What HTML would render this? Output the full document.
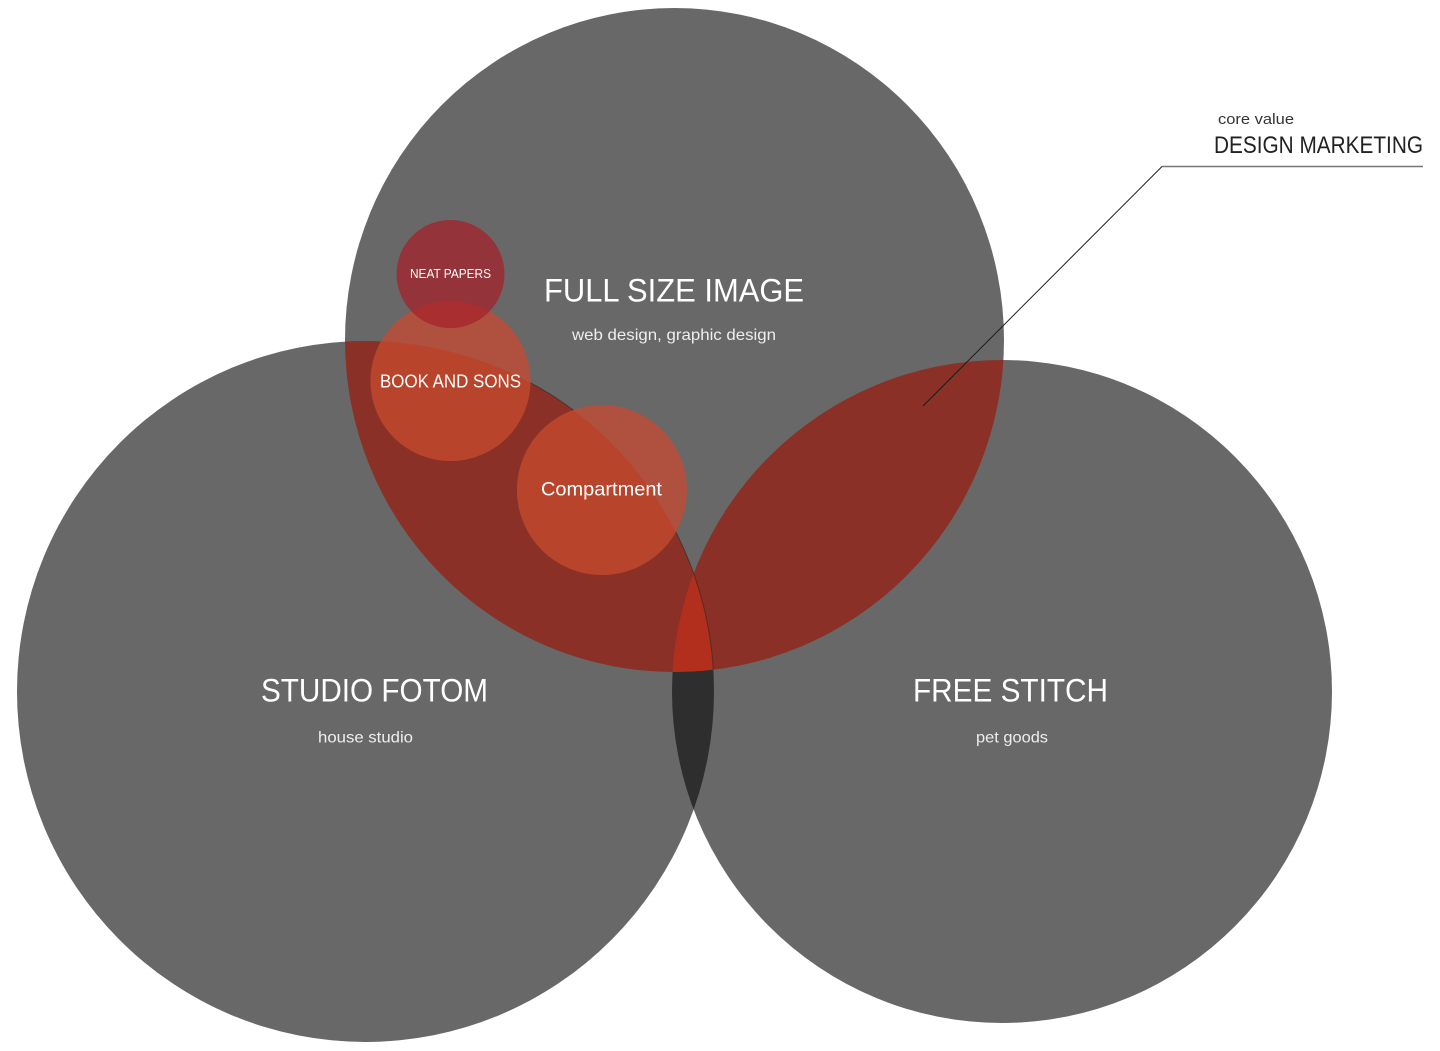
<!DOCTYPE html>
<html>
<head>
<meta charset="utf-8">
<style>
html,body{margin:0;padding:0;background:#fff;width:1440px;height:1051px;overflow:hidden}
svg{display:block}
text{font-family:"Liberation Sans",sans-serif}
</style>
</head>
<body>
<svg width="1440" height="1051" viewBox="0 0 1440 1051" xmlns="http://www.w3.org/2000/svg">
<defs>
<clipPath id="cT"><ellipse cx="674.5" cy="340" rx="329.500" ry="332"/></clipPath>
<clipPath id="cL"><ellipse cx="365.5" cy="691.5" rx="348.500" ry="350.500"/></clipPath>
<clipPath id="cR"><ellipse cx="1002" cy="691.5" rx="330" ry="331.500"/></clipPath>
<clipPath id="cB"><circle cx="450.5" cy="381" r="80"/></clipPath>
<clipPath id="cE"><rect x="505" y="340" width="230" height="340"/></clipPath>
</defs>
<rect width="1440" height="1051" fill="#fff"/>
<ellipse cx="674.5" cy="340" rx="329.500" ry="332" fill="#686868"/>
<ellipse cx="365.5" cy="691.5" rx="348.500" ry="350.500" fill="#686868"/>
<ellipse cx="1002" cy="691.5" rx="330" ry="331.500" fill="#686868"/>
<g clip-path="url(#cL)"><ellipse cx="1002" cy="691.5" rx="330" ry="331.500" fill="#2e2e2e"/></g>
<g clip-path="url(#cT)">
<ellipse cx="365.5" cy="691.5" rx="348.500" ry="350.500" fill="#8a3026"/>
<ellipse cx="1002" cy="691.5" rx="330" ry="331.500" fill="#8a3026"/>
<g clip-path="url(#cL)"><ellipse cx="1002" cy="691.5" rx="330" ry="331.500" fill="#b22f1d"/></g>
<g clip-path="url(#cE)"><ellipse cx="365.5" cy="691.5" rx="348.500" ry="350.500" fill="none" stroke="#3a2a28" stroke-width="1" opacity=".7"/></g>
</g>
<circle cx="450.5" cy="381" r="80" fill="#b0513f"/>
<g clip-path="url(#cL)"><g clip-path="url(#cT)"><circle cx="450.5" cy="381" r="80" fill="#b9442c"/></g></g>
<circle cx="602" cy="490" r="85" fill="#b0513f"/>
<g clip-path="url(#cL)"><circle cx="602" cy="490" r="85" fill="#b9442c"/></g>
<circle cx="450.5" cy="274" r="54" fill="#94343a"/>
<g clip-path="url(#cB)"><circle cx="450.5" cy="274" r="54" fill="#a82e30"/></g>
<polyline points="923,406 1162,166.500 1423,166.500" fill="none" stroke="#1c1c1c" stroke-width="1"/>
<line x1="1162" y1="166.500" x2="1423" y2="166.500" stroke="#777" stroke-width="1.500"/>
<g fill="#fff">
<text x="544" y="301.500" font-size="32" textLength="260" lengthAdjust="spacingAndGlyphs">FULL SIZE IMAGE</text>
<text x="572" y="340" font-size="16" fill="#eee" textLength="204" lengthAdjust="spacingAndGlyphs">web design, graphic design</text>
<text x="261" y="701.500" font-size="32" textLength="227" lengthAdjust="spacingAndGlyphs">STUDIO FOTOM</text>
<text x="318" y="742.500" font-size="16" fill="#eee" textLength="95" lengthAdjust="spacingAndGlyphs">house studio</text>
<text x="913" y="701.500" font-size="32" textLength="195" lengthAdjust="spacingAndGlyphs">FREE STITCH</text>
<text x="976" y="742.500" font-size="16" fill="#eee" textLength="72" lengthAdjust="spacingAndGlyphs">pet goods</text>
<text x="410" y="278" font-size="12.500" textLength="81" lengthAdjust="spacingAndGlyphs">NEAT PAPERS</text>
<text x="380" y="387.500" font-size="18.500" textLength="141" lengthAdjust="spacingAndGlyphs">BOOK AND SONS</text>
<text x="541" y="495.500" font-size="19" textLength="121" lengthAdjust="spacingAndGlyphs">Compartment</text>
</g>
<text x="1218" y="124" font-size="15" fill="#333" textLength="76" lengthAdjust="spacingAndGlyphs">core value</text>
<text x="1214" y="153" font-size="24" fill="#222" textLength="209" lengthAdjust="spacingAndGlyphs">DESIGN MARKETING</text>
</svg>
</body>
</html>
